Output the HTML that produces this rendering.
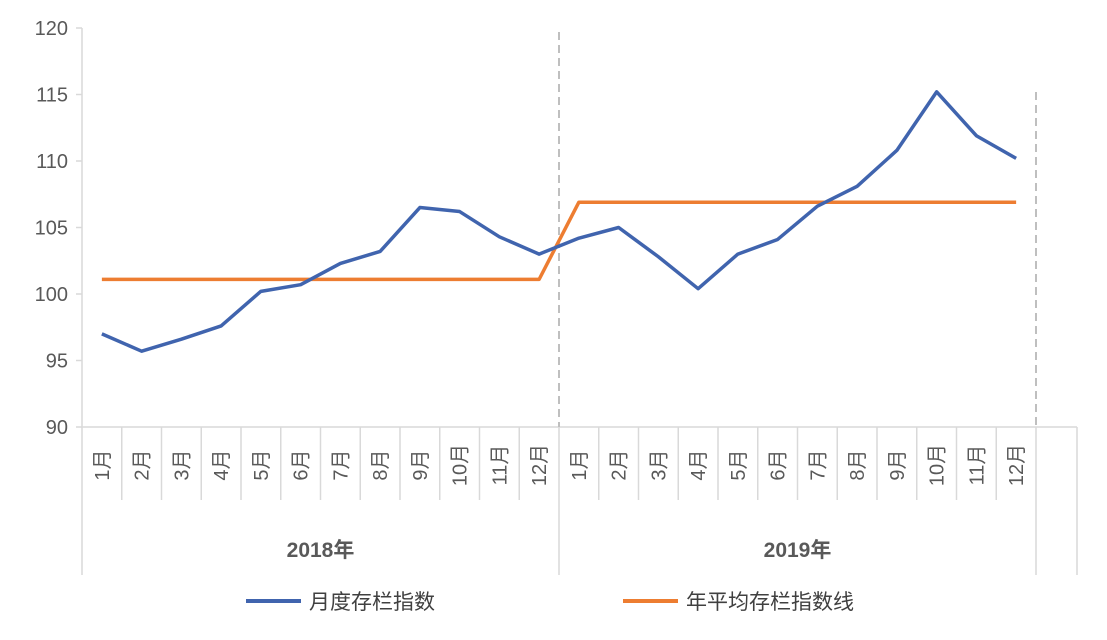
<!DOCTYPE html>
<html><head><meta charset="utf-8"><style>
body{margin:0;background:#fff}
svg text{font-family:"Liberation Sans","Noto Sans CJK SC",sans-serif}
</style></head><body>
<svg id="c" width="1107" height="635" viewBox="0 0 1107 635"></svg>
<script>
const years=["2018年","2019年"];
const months=["1月","2月","3月","4月","5月","6月","7月","8月","9月","10月","11月","12月"];
const monthly=[97.0,95.7,96.6,97.6,100.2,100.7,102.3,103.2,106.5,106.2,104.3,103.0,104.2,105.0,102.8,100.4,103.0,104.1,106.6,108.1,110.8,115.2,111.9,110.2];
const yearAvg=[101.1,106.9];
const yTicks=[90,95,100,105,110,115,120];
const NS="http://www.w3.org/2000/svg";
const svg=document.getElementById('c');
const X0=82,CW=39.75,Y0=427,Y1=28,VMIN=90,VMAX=120;
const n=monthly.length;
function x(i){return X0+CW*(i+0.5);}
function y(v){return Y0-(v-VMIN)/(VMAX-VMIN)*(Y0-Y1);}
function mk(t,a,p){const e=document.createElementNS(NS,t);for(const k in a)e.setAttribute(k,a[k]);(p||svg).appendChild(e);return e;}
// axes
const ya=mk('line',{x1:X0,y1:Y1,x2:X0,y2:575,stroke:'#d9d9d9','stroke-width':1.5});


const xa=mk('line',{x1:X0,y1:Y0,x2:1077,y2:Y0,stroke:'#d9d9d9','stroke-width':1.5});


yTicks.forEach(v=>{
 const tk=mk('line',{x1:X0-6,y1:y(v),x2:X0,y2:y(v),stroke:'#d9d9d9','stroke-width':1.5});
 
 
 const t=mk('text',{x:X0-14,y:y(v)+7,'text-anchor':'end','font-size':20,fill:'#595959'});
 t.textContent=v;
 
 
});
for(let i=1;i<=n;i++){
 const big=(i%12===0);
 const l=mk('line',{x1:X0+CW*i,y1:Y0,x2:X0+CW*i,y2:big?575:500,stroke:'#d9d9d9','stroke-width':1.5});
 
 
}
const l2=mk('line',{x1:1077,y1:Y0,x2:1077,y2:575,stroke:'#d9d9d9','stroke-width':1.5});


for(let i=0;i<n;i++){
 const t=mk('text',{transform:`translate(${x(i)+7},465) rotate(-90)`,'text-anchor':'middle','font-size':20,fill:'#595959'});
 t.textContent=months[i%12];
 
 
}
years.forEach((yr,k)=>{
 const t=mk('text',{x:X0+CW*(12*k+6),y:557,'text-anchor':'middle','font-size':21,'font-weight':'bold',fill:'#595959'});
 t.textContent=yr;
 
 
});
// dashed separators
[[12,32],[24,92]].forEach(([i,top])=>{
 const d=mk('line',{x1:X0+CW*i,y1:top,x2:X0+CW*i,y2:Y0,stroke:'#bfbfbf','stroke-width':2,'stroke-dasharray':'8,5'});
 
 
});
// average line
let ap=[];
for(let i=0;i<n;i++)ap.push(x(i)+','+y(yearAvg[Math.floor(i/12)]));
const al=mk('polyline',{points:ap.join(' '),fill:'none',stroke:'#ed7d31','stroke-width':3.5,'stroke-linejoin':'round'});


const mp=monthly.map((v,i)=>x(i)+','+y(v)).join(' ');
const ml=mk('polyline',{points:mp,fill:'none',stroke:'#4064ae','stroke-width':3.5,'stroke-linejoin':'round'});


// legend
const g=mk('g',{});


[[246,'#4064ae','月度存栏指数'],[623,'#ed7d31','年平均存栏指数线']].forEach(([lx,c,s])=>{
 const e=mk('line',{x1:lx,y1:601,x2:lx+55,y2:601,stroke:c,'stroke-width':4},g);
 
 
 const t=mk('text',{x:lx+63,y:609,'font-size':21,fill:'#404040'},g);
 t.textContent=s;
 
 
});
</script>
</body></html>
